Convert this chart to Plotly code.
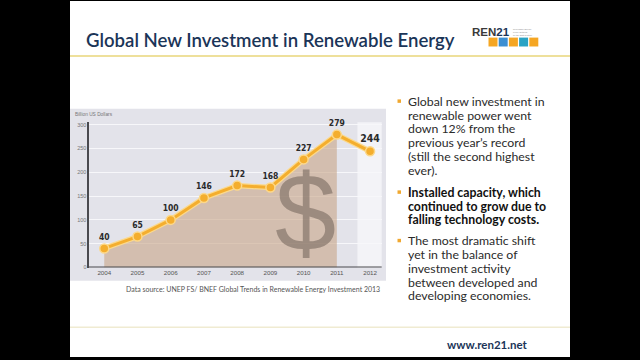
import plotly.graph_objects as go

# ---- data ----
years = [2004, 2005, 2006, 2007, 2008, 2009, 2010, 2011, 2012]
investment = [40, 65, 100, 146, 172, 168, 227, 279, 244]
value_labels = ["40", "65", "100", "146", "172", "168", "227", "279", "244"]
y_ticks = [0, 50, 100, 150, 200, 250, 300]
x_tick_labels = [str(y) for y in years]

title_text = "Global New Investment in Renewable Energy"
bullets = [
    (["Global new investment in", "renewable power went", "down 12% from the",
      "previous year’s record", "(still the second highest", "ever)."], False, 101.5),
    (["Installed capacity, which", "continued to grow due to",
      "falling technology costs."], True, 193.5),
    (["The most dramatic shift", "yet in the balance of", "investment activity",
      "between developed and", "developing economies."], False, 242.5),
]
source_text = "Data source: UNEP FS/ BNEF Global Trends in Renewable Energy Investment 2013"

W, H = 640, 360


def px(x):
    return x / W


def py(y):
    return 1 - y / H


fig = go.Figure()

# filled area (historical years up to 2011)
fig.add_trace(go.Scatter(
    x=years[:-1], y=investment[:-1], mode="lines", line=dict(width=0, color="rgba(0,0,0,0)"),
    fill="tozeroy", fillcolor="rgba(200,165,135,0.6)", hoverinfo="skip", showlegend=False))

# line halo
fig.add_trace(go.Scatter(
    x=years, y=investment, mode="lines", line=dict(width=5.5, color="#FBD98C"),
    hoverinfo="skip", showlegend=False))

fig.add_trace(go.Scatter(
    x=years, y=investment, mode="lines+markers+text", cliponaxis=False,
    line=dict(width=3, color="#F4AE2E"),
    marker=dict(size=9, color="#F4AE2E", line=dict(width=1.5, color="#FCD88A")),
    text=value_labels, textposition="top center",
    textfont=dict(family="DejaVu Sans Condensed, Liberation Sans Narrow, Arial Narrow",
                  size=[8.5, 8.5, 8.5, 8.5, 8.5, 8.5, 8.5, 8.5, 10.5], color="#2a2a2a",
                  weight="bold"),
    showlegend=False))

# big dollar sign
fig.add_annotation(x=2010.05, y=115, xref="x", yref="y", text="$", showarrow=False,
                   font=dict(family="Liberation Sans, Arial", size=110, color="rgba(120,105,95,0.6)"),
                   xanchor="center", yanchor="middle")

shapes = []
# white slide on black paper
shapes.append(dict(type="rect", xref="paper", yref="paper", x0=px(70), x1=px(570), y0=0, y1=1,
                   fillcolor="white", line=dict(width=0), layer="below"))
# title underline
shapes.append(dict(type="line", xref="paper", yref="paper", x0=px(70), x1=px(570), y0=py(55.5), y1=py(55.5),
                   line=dict(color="#E9D67A", width=1.5), layer="below"))
# bottom line
shapes.append(dict(type="line", xref="paper", yref="paper", x0=px(70), x1=px(570), y0=py(330), y1=py(330),
                   line=dict(color="#F0EBD2", width=1.5), layer="below"))
# chart panel
shapes.append(dict(type="rect", xref="paper", yref="paper", x0=px(70), x1=px(386), y0=py(283), y1=py(109),
                   fillcolor="#E3E3EA", line=dict(width=0), layer="below"))
# highlighted 2012 column
shapes.append(dict(type="rect", xref="x", yref="paper", x0=2011.62, x1=2012.4, y0=py(269.5), y1=py(122.5),
                   fillcolor="#F3F3F7", line=dict(width=0), layer="below"))
# logo icons
icon_colors = ["#F5A623", "#3C8FD2", "#F5A623", "#2AA3C4", "#F5A623"]
for i, c in enumerate(icon_colors):
    x0 = 488.5 + i * 10.2
    shapes.append(dict(type="rect", xref="paper", yref="paper", x0=px(x0), x1=px(x0 + 9), y0=py(46), y1=py(37),
                       fillcolor=c, line=dict(width=0), layer="above"))
# bullet squares
for lines, bold, y0 in bullets:
    shapes.append(dict(type="rect", xref="paper", yref="paper", x0=px(397.5), x1=px(401), y0=py(y0 + 1.5), y1=py(y0 - 2),
                       fillcolor="#F0A830", line=dict(width=0), layer="above"))

annotations = []
annotations.append(dict(x=px(84), y=py(39.5), xref="paper", yref="paper", text=title_text, showarrow=False,
                        xanchor="left", yanchor="middle",
                        font=dict(family="Lato", size=18.6, color="#1B3558", weight=600)))
# logo text
annotations.append(dict(x=px(471), y=py(31.5), xref="paper", yref="paper",
                        text="<b><span style='color:#3a3a3a'>REN</span><span style='color:#1B3558'>21</span></b>",
                        showarrow=False, xanchor="left", yanchor="middle", borderpad=0,
                        font=dict(family="Liberation Sans, Arial", size=11.5)))
annotations.append(dict(x=px(512), y=py(31), xref="paper", yref="paper",
                        text="Renewable Energy<br>Policy Network<br>for the 21st Century",
                        showarrow=False, xanchor="left", yanchor="middle", align="left", borderpad=0,
                        font=dict(family="Liberation Sans, Arial", size=2.2, color="#888888")))

for lines, bold, y0 in bullets:
    for i, line in enumerate(lines):
        annotations.append(dict(x=px(405.5), y=py(y0 + i * 13.9), xref="paper", yref="paper",
                                text=("<b>%s</b>" % line) if bold else line, showarrow=False,
                                xanchor="left", yanchor="middle",
                                font=dict(family="Lato", size=12.3, color="#111111" if bold else "#2b2b2b")))

annotations.append(dict(x=px(382), y=py(291.5), xref="paper", yref="paper", text=source_text, showarrow=False,
                        xanchor="right", yanchor="middle",
                        font=dict(family="Lato", size=7, color="#555555")))
annotations.append(dict(x=px(73), y=py(115), xref="paper", yref="paper", text="Billion US Dollars",
                        showarrow=False, xanchor="left", yanchor="middle",
                        font=dict(family="Liberation Sans, Arial", size=4.8, color="#777777")))
annotations.append(dict(x=px(487.5), y=py(347), xref="paper", yref="paper", text="<b>www.ren21.net</b>",
                        showarrow=False, xanchor="center", yanchor="middle",
                        font=dict(family="Lato", size=11.5, color="#1B3558")))

fig.update_layout(
    width=W, height=H, margin=dict(l=0, r=0, t=0, b=0),
    paper_bgcolor="black", plot_bgcolor="rgba(0,0,0,0)",
    shapes=shapes, annotations=fig.layout.annotations + tuple(annotations),
    xaxis=dict(domain=[px(89.3), px(381.7)], range=[2003.55, 2012.35],
               tickmode="array", tickvals=years, ticktext=x_tick_labels,
               showgrid=False, zeroline=False, showline=False,
               tickfont=dict(family="Liberation Sans, Arial", size=6.2, color="#555555"), ticks=""),
    yaxis=dict(domain=[py(269.5), py(122.6)], range=[0, 305],
               tickmode="array", tickvals=y_ticks,
               showgrid=True, gridcolor="#F7F7FA", gridwidth=1, zeroline=False,
               showline=True, linecolor="#4a4a4f", linewidth=1.5, ticks="",
               tickfont=dict(family="Liberation Sans, Arial", size=5.5, color="#777777")),
)
# x axis baseline
fig.add_shape(type="line", xref="paper", yref="y", x0=px(88.5), x1=px(381.7), y0=0, y1=0,
              line=dict(color="#4a4a4f", width=1.8), layer="above")

fig.write_html("out.html", config={"displayModeBar": False},
               post_script="document.body.style.margin='0';document.body.style.overflow='hidden';")
